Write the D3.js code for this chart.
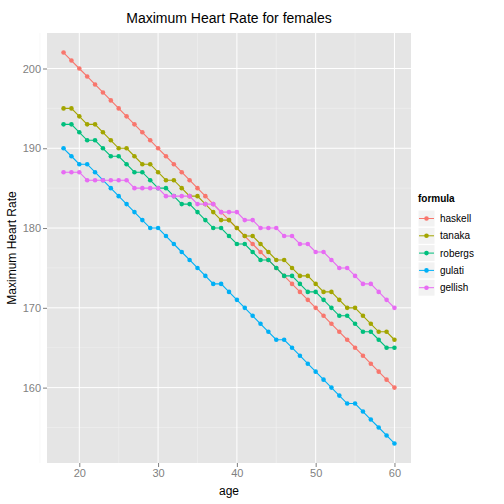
<!DOCTYPE html>
<html><head><meta charset="utf-8">
<script src="https://cdn.jsdelivr.net/npm/d3@7"></script>
<style>body{margin:0;background:#fff}text{font-family:"Liberation Sans",Arial,sans-serif}</style>
</head><body><div id="chart"></div>
<script>
var ages = d3.range(18, 61);
var haskell = [202,201,200,199,198,197,196,195,194,193,192,191,190,189,188,187,186,185,184,183,182,181,180,179,178,177,176,175,174,173,172,171,170,169,168,167,166,165,164,163,162,161,160];
var tanaka = [195,195,194,193,193,192,191,190,190,189,188,188,187,186,186,185,184,184,183,182,181,181,180,179,179,178,177,176,176,175,174,174,173,172,172,171,170,170,169,168,167,167,166];
var robergs = [193,193,192,191,191,190,189,189,188,187,187,186,185,185,184,183,183,182,181,180,180,179,178,178,177,176,176,175,174,174,173,172,172,171,170,169,169,168,167,167,166,165,165];
var gulati = [190,189,188,188,187,186,185,184,183,182,181,180,180,179,178,177,176,175,174,173,173,172,171,170,169,168,167,166,166,165,164,163,162,161,160,159,158,158,157,156,155,154,153];
var gellish = [187,187,187,186,186,186,186,186,186,185,185,185,185,184,184,184,184,183,183,183,182,182,182,181,181,180,180,180,179,179,178,178,177,177,176,175,175,174,173,173,172,171,170];
var seriesNames = ['haskell','tanaka','robergs','gulati','gellish'];
var seriesValues = [haskell, tanaka, robergs, gulati, gellish];
var colors = ['#F8766D','#A3A500','#00BF7D','#00B0F6','#E76BF3'];
var xTicks = [20,30,40,50,60], yTicks = [160,170,180,190,200];

var width = 504, height = 504;
var pLeft = 47, pRight = 411, pTop = 33, pBottom = 463;
var svg = d3.select('#chart').append('svg').attr('width', width).attr('height', height);

var x = d3.scaleLinear().domain([15.9, 62.1]).range([pLeft, pRight]);
var y = d3.scaleLinear().domain([150.55, 204.45]).range([pBottom, pTop]);

svg.append('rect').attr('x', pLeft).attr('y', pTop).attr('width', pRight-pLeft).attr('height', pBottom-pTop).style('fill', '#E5E5E5');
// minor grid
[15,25,35,45,55].forEach(function(v){
	svg.append('line').attr('x1', x(v)).attr('x2', x(v)).attr('y1', pTop).attr('y2', pBottom).style('stroke', '#F2F2F2').style('stroke-width', 0.5);
});
[155,165,175,185,195].forEach(function(v){
	svg.append('line').attr('x1', pLeft).attr('x2', pRight).attr('y1', y(v)).attr('y2', y(v)).style('stroke', '#F2F2F2').style('stroke-width', 0.5);
});
xTicks.forEach(function(v){
	svg.append('line').attr('x1', x(v)).attr('x2', x(v)).attr('y1', pTop).attr('y2', pBottom).style('stroke', '#fff').style('stroke-width', 1);
});
yTicks.forEach(function(v){
	svg.append('line').attr('x1', pLeft).attr('x2', pRight).attr('y1', y(v)).attr('y2', y(v)).style('stroke', '#fff').style('stroke-width', 1);
});

var xAxis = svg.append('g').attr('transform', 'translate(0,' + pBottom + ')').call(d3.axisBottom(x).tickValues(xTicks).tickSize(4).tickPadding(2));
var yAxis = svg.append('g').attr('transform', 'translate(' + pLeft + ',0)').call(d3.axisLeft(y).tickValues(yTicks).tickSize(4).tickPadding(2));
[xAxis, yAxis].forEach(function(a){
	a.select('.domain').remove();
	a.selectAll('line').style('stroke', '#7F7F7F');
	a.selectAll('text').style('fill', '#7F7F7F').style('font-size', '11px');
});

var line = d3.line().x(function(d,i){ return x(ages[i]); }).y(function(d){ return y(d); });
seriesValues.forEach(function(vals, k){
	svg.append('path').datum(vals).attr('d', line).style('fill', 'none').style('stroke', colors[k]).style('stroke-width', 1.1);
	svg.selectAll('circle.s' + k).data(vals).enter().append('circle')
		.attr('class', 's' + k)
		.attr('cx', function(d,i){ return x(ages[i]); })
		.attr('cy', function(d){ return y(d); })
		.attr('r', 2.3).style('fill', colors[k]);
});

svg.append('text').text('Maximum Heart Rate for females').attr('x', (pLeft+pRight)/2).attr('y', 23).attr('text-anchor', 'middle').style('font-size', '14px');
svg.append('text').text('age').attr('x', (pLeft+pRight)/2).attr('y', 495).attr('text-anchor', 'middle').style('font-size', '12px');
svg.append('text').text('Maximum Heart Rate').attr('transform', 'translate(16,' + ((pTop+pBottom)/2) + ') rotate(-90)').attr('text-anchor', 'middle').style('font-size', '12px');

var lg = svg.append('g').attr('transform', 'translate(418,202)');
lg.append('text').text('formula').attr('x', 0).attr('y', 0).style('font-size', '10px').style('font-weight', 'bold');
seriesNames.forEach(function(n, k){
	var yy = 8 + k*17.3;
	lg.append('rect').attr('x', 0).attr('y', yy).attr('width', 17).attr('height', 17).style('fill', '#F2F2F2').style('stroke', '#fff');
	lg.append('line').attr('x1', 1).attr('x2', 16).attr('y1', yy+8.5).attr('y2', yy+8.5).style('stroke', colors[k]);
	lg.append('circle').attr('cx', 8.5).attr('cy', yy+8.5).attr('r', 2.3).style('fill', colors[k]);
	lg.append('text').text(n).attr('x', 22).attr('y', yy+12).style('font-size', '10px');
});
</script></body></html>
